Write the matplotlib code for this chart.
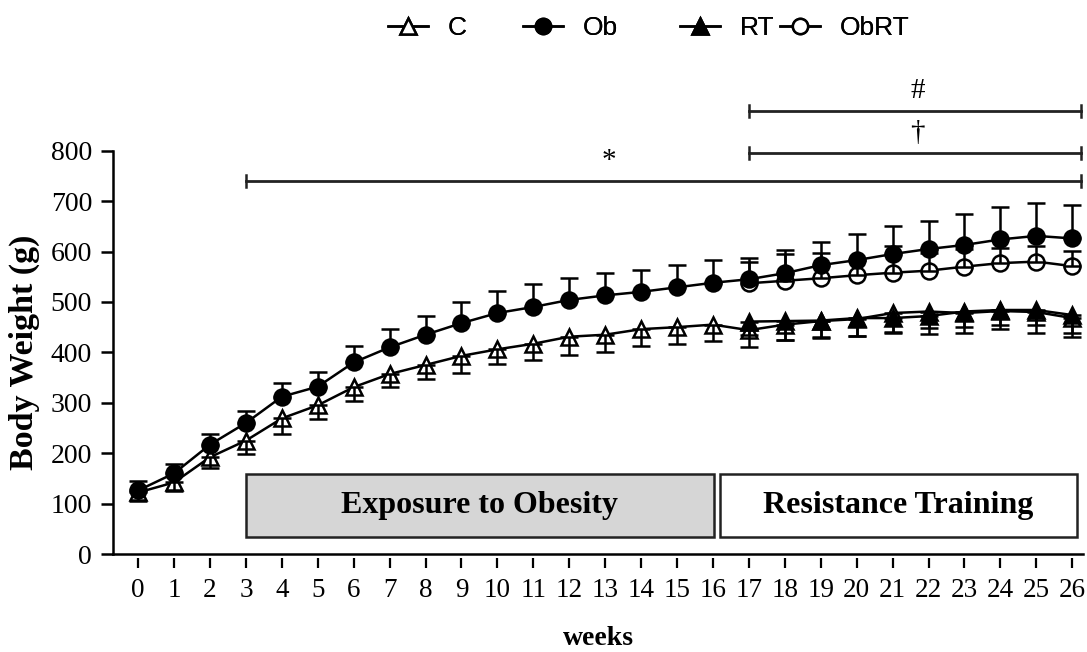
"""
Body weight over 26 weeks for C, Ob, RT and ObRT groups (mean +/- SD).
Saves out.png
"""

import matplotlib
matplotlib.use("Agg")
import matplotlib.pyplot as plt
from matplotlib.lines import Line2D
from matplotlib.patches import Rectangle


weeks = list(range(27))
weeks_rt = list(range(17, 27))

c_mean = [122, 142, 192, 225, 269, 295, 331, 357, 375, 393, 406, 417, 431, 435,
          446, 450, 455, 444, 455, 462, 466, 478, 481, 478, 482, 480, 468]
c_sd = [16, 18, 22, 26, 30, 28, 27, 26, 28, 33, 30, 32, 36, 35,
        34, 33, 33, 34, 30, 33, 34, 37, 33, 39, 36, 41, 38]

ob_mean = [126, 160, 217, 260, 312, 332, 380, 410, 435, 458, 478, 490, 504, 513,
           520, 529, 538, 545, 557, 573, 583, 595, 605, 613, 624, 631, 626]
ob_sd = [18, 19, 22, 23, 27, 30, 33, 37, 38, 41, 43, 45, 43, 44,
         43, 45, 45, 42, 46, 45, 52, 56, 56, 62, 64, 65, 66]

rt_mean = [461, 462, 463, 468, 468, 472, 481, 484, 484, 474]
rt_sd = [26, 37, 33, 36, 30, 35, 31, 30, 30, 36]

obrt_mean = [537, 542, 547, 553, 558, 562, 570, 577, 580, 571]
obrt_sd = [42, 53, 51, 30, 52, 35, 35, 30, 30, 30]

phase_labels = ["Exposure to Obesity", "Resistance Training"]
phase_spans = [(3, 16.02), (16.19, 26.14)]

# significance brackets: (start week, end week, level, symbol, text x)
brackets = [(3, 26.25, 740, "*", 13.1),
            (17, 26.25, 796, "\u2020", 21.7),
            (17, 26.25, 879, "#", 21.7)]

SERIF = "Liberation Serif"
SANS = "Liberation Sans"
LW = 1.8


def draw_series(ax, x, y, sd, marker, face, below, z):
    ax.plot(x, y, color="black", lw=LW, marker=marker, markersize=11.5,
            markerfacecolor=face, markeredgecolor="black", markeredgewidth=1.8,
            zorder=z)
    lower = sd if below else [0] * len(sd)
    upper = [0] * len(sd) if below else sd
    ax.errorbar(x, y, yerr=[lower, upper], fmt="none", ecolor="black",
                elinewidth=LW, capsize=6.5, capthick=LW, zorder=z + 0.5)


def main():
    fig = plt.figure(figsize=(10.87, 6.52), dpi=100)
    ax = fig.add_axes([113 / 1087, 1 - 554 / 652, 970 / 1087, 403.3 / 652])
    ax.set_xlim(-0.7, 26.3)
    ax.set_ylim(0, 800)

    draw_series(ax, weeks, c_mean, c_sd, "^", "white", True, 3)
    draw_series(ax, weeks_rt, obrt_mean, obrt_sd, "o", "white", False, 4)
    draw_series(ax, weeks, ob_mean, ob_sd, "o", "black", False, 5)
    draw_series(ax, weeks_rt, rt_mean, rt_sd, "^", "black", True, 6)

    # phase boxes
    colors = ["#d6d6d6", "white"]
    for (x0, x1), label, fc in zip(phase_spans, phase_labels, colors):
        ax.add_patch(Rectangle((x0, 34), x1 - x0, 125, facecolor=fc,
                               edgecolor="#222222", lw=1.8, zorder=2))
        ax.text((x0 + x1) / 2, 97, label, ha="center", va="center",
                fontsize=23, fontweight="bold", family=SERIF, zorder=2.5)

    # brackets above the data
    for x0, x1, lev, sym, tx in brackets:
        ax.plot([x0, x1], [lev, lev], color="#222222", lw=2, clip_on=False)
        for xe in (x0, x1):
            ax.plot([xe, xe], [lev - 12, lev + 12], color="#222222", lw=1.8,
                    clip_on=False)
        ax.text(tx, lev + 14, sym, ha="center", va="bottom", fontsize=21,
                family=SERIF, clip_on=False)

    for side in ("top", "right"):
        ax.spines[side].set_visible(False)
    for side in ("left", "bottom"):
        ax.spines[side].set_linewidth(1.8)

    ax.set_yticks(range(0, 801, 100))
    ax.tick_params(axis="y", direction="out", length=9, width=1.8, pad=6,
                   labelsize=20)
    for lab in ax.get_yticklabels():
        lab.set_family(SERIF)
    ax.tick_params(axis="x", bottom=False, labelbottom=False)

    # x ticks hang a little below the axis line
    sec = ax.secondary_xaxis(-0.01)
    sec.spines["bottom"].set_visible(False)
    sec.set_xticks(weeks)
    sec.tick_params(axis="x", direction="out", length=7.5, width=1.6, pad=7,
                    labelsize=19.5)
    for lab in sec.get_xticklabels():
        lab.set_family(SERIF)

    ax.set_ylabel("Body Weight (g)", fontsize=24.5, fontweight="bold", family=SERIF)
    ax.yaxis.set_label_coords(-0.075, 0.5)
    ax.set_xlabel("weeks", fontsize=20, fontweight="bold", family=SERIF, va="top")
    ax.xaxis.set_label_coords(0.5, -0.178)

    # legend entries placed one by one
    entries = [("C", "^", "white", 388), ("Ob", "o", "black", 523),
               ("RT", "^", "black", 680), ("ObRT", "o", "white", 780)]
    for name, mk, face, xpx in entries:
        h = Line2D([], [], color="black", lw=LW, marker=mk, markersize=11,
                   markerfacecolor=face, markeredgecolor="black",
                   markeredgewidth=1.8)
        leg = fig.legend([h], [name], loc="center left",
                         bbox_to_anchor=(xpx / 1087, 1 - 28 / 652),
                         frameon=False, borderpad=0, borderaxespad=0,
                         handlelength=1.5, handletextpad=0.75,
                         prop={"family": SANS, "size": 19})
        fig.add_artist(leg)

    fig.savefig("out.png", dpi=100)
    plt.close(fig)


if __name__ == "__main__":
    main()
